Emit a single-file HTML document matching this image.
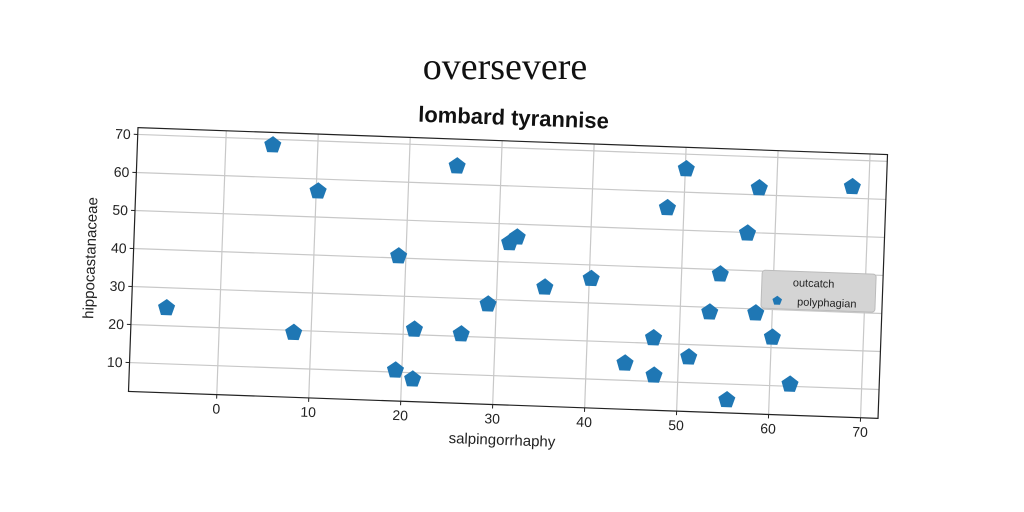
<!DOCTYPE html>
<html><head><meta charset="utf-8"><style>
body{margin:0;background:#fff;}
svg{display:block;font-family:"Liberation Sans","DejaVu Sans",sans-serif;}
</style></head><body>
<svg id="chart" width="1024" height="512" xmlns="http://www.w3.org/2000/svg">
<text x="505" y="79" text-anchor="middle" font-family="Liberation Serif,serif" font-size="38" fill="#111">oversevere</text>
<g id="ax" transform="rotate(2.06 508 273)">
<text x="508" y="125" text-anchor="middle" font-size="22" font-weight="bold" fill="#111">lombard tyrannise</text>
</g>
</svg>
<script>
const xVals=[-5.8,5.1,10.2,8.1,19.2,19.3,21.2,21.2,25.2,26.3,29.1,31.2,32.0,35.2,40.2,44.2,48.2,50.1,47.2,47.4,51.1,55.4,54.2,53.2,57.0,58.1,58.2,60.1,62.2,68.2];
const yVals=[24.7,68.5,56.8,19.4,40.5,10.5,8.3,21.4,64.7,20.6,28.7,45.0,46.6,33.7,36.4,14.5,55.7,66.1,21.4,11.6,16.7,5.8,38.8,28.7,49.8,61.8,28.9,22.7,10.5,63.0];
const xTicks=[0,10,20,30,40,50,60,70];
const yTicks=[10,20,30,40,50,60,70];
const L=133,T=141,W=750,H=264,xmin=-9.6,xmax=71.9,ymin=2.4,ymax=71.8;
const sx=v=>L+(v-xmin)/(xmax-xmin)*W, sy=v=>T+H-(v-ymin)/(ymax-ymin)*H;
const NS="http://www.w3.org/2000/svg", g=document.getElementById('ax');
function mk(t,a){const e=document.createElementNS(NS,t);for(const k in a)e.setAttribute(k,a[k]);g.appendChild(e);return e;}
xTicks.forEach(t=>{
 const l=mk('line',{x1:sx(t),x2:sx(t),y1:T,y2:T+H,stroke:'#c8c8c8','stroke-width':1.2});
 
 
 mk('line',{x1:sx(t),x2:sx(t),y1:T+H,y2:T+H+4,stroke:'#222'});
 const tx=mk('text',{x:sx(t),y:T+H+19,'text-anchor':'middle','font-size':14,fill:'#222'});tx.textContent=t;
 
 
});
yTicks.forEach(t=>{
 const l=mk('line',{x1:L,x2:L+W,y1:sy(t),y2:sy(t),stroke:'#c8c8c8','stroke-width':1.2});
 
 
 mk('line',{x1:L-4,x2:L,y1:sy(t),y2:sy(t),stroke:'#222'});
 const tx=mk('text',{x:L-7,y:sy(t)+5,'text-anchor':'end','font-size':14,fill:'#222'});tx.textContent=t;
 
 
});
const fr=mk('rect',{x:L,y:T,width:W,height:H,fill:'none',stroke:'#222','stroke-width':1.2});


function pent(cx,cy,r){let p=[];for(let i=0;i<5;i++){const a=-Math.PI/2+i*2*Math.PI/5;p.push((cx+r*Math.cos(a)).toFixed(1)+','+(cy+r*Math.sin(a)).toFixed(1));}return p.join(' ');}
xVals.forEach((v,i)=>{
 const p=mk('polygon',{points:pent(sx(v),sy(yVals[i]),9),fill:'#1f77b4'});
 
 
});
const xl=mk('text',{x:L+W/2,y:T+H+40,'text-anchor':'middle','font-size':15,fill:'#222'});xl.textContent='salpingorrhaphy';


const yl=mk('text',{x:0,y:0,'text-anchor':'middle','font-size':15,fill:'#222',transform:`translate(${L-38},${T+H/2}) rotate(-90)`});yl.textContent='hippocastanaceae';


const lg=mk('rect',{x:762,y:261,width:114,height:38,rx:3,fill:'#d4d4d4',stroke:'#bbb'});


const t1=mk('text',{x:793,y:276,'font-size':11,fill:'#222'});t1.textContent='outcatch';


mk('polygon',{points:pent(778,291,5),fill:'#1f77b4'});
const t2=mk('text',{x:798,y:295,'font-size':11,fill:'#222'});t2.textContent='polyphagian';


</script>
</body></html>
